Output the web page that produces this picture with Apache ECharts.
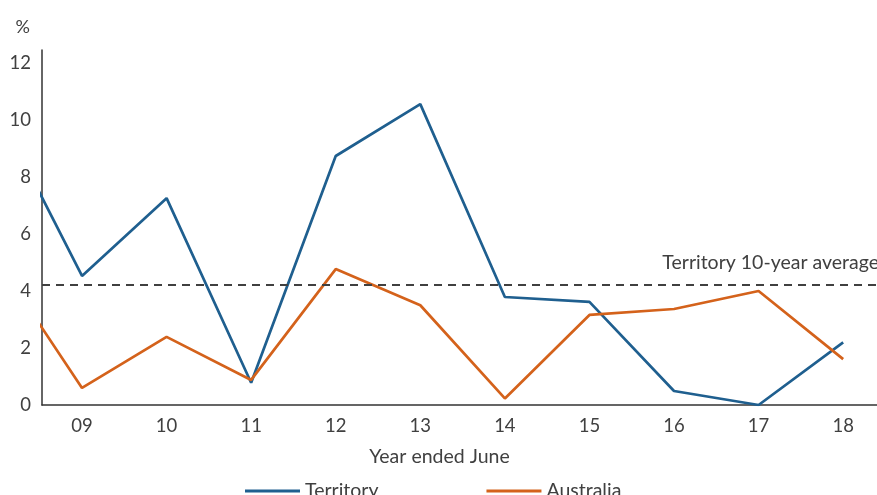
<!DOCTYPE html>
<html>
<head>
<meta charset="utf-8">
<script src="https://cdn.jsdelivr.net/npm/echarts@6/dist/echarts.min.js"></script>
<style>html,body{margin:0;padding:0;background:#fff;}#c{width:877px;height:495px;}</style>
</head>
<body>
<div id="c"></div>
<script>
var years = [8, 9, 10, 11, 12, 13, 14, 15, 16, 17, 18];
var tickYears = [9, 10, 11, 12, 13, 14, 15, 16, 17, 18];
var territory = [10.35, 4.53, 7.26, 0.78, 8.74, 10.56, 3.79, 3.62, 0.49, 0.0, 2.2];
var australia = [5.05, 0.6, 2.39, 0.88, 4.77, 3.5, 0.23, 3.16, 3.37, 4.0, 1.61];
var territoryAverage = 4.21;
var yTicks = [0, 2, 4, 6, 8, 10, 12];

var txt = '#404040';
var font = 'Lato';
function pairs(v) { return years.map(function (y, i) { return [y, v[i]]; }); }

var chart = echarts.init(document.getElementById('c'));
chart.setOption({
  animation: false,
  textStyle: { fontFamily: font },
  grid: { left: 42, right: 0, top: 50, bottom: 90 },
  xAxis: {
    type: 'value', min: 8.527, max: 18.4,
    name: 'Year ended June', nameLocation: 'middle', nameGap: 42,
    nameTextStyle: { fontFamily: font, fontSize: 19.5, color: txt, padding: [0, 40, 0, 0] },
    axisLine: { show: true, lineStyle: { color: '#333', width: 1.5 } },
    axisTick: { show: false },
    splitLine: { show: false },
    axisLabel: {
      customValues: tickYears, fontFamily: font, fontSize: 18.5, color: txt, margin: 12,
      formatter: function (v) { return (v < 10 ? '0' : '') + v; }
    }
  },
  yAxis: {
    type: 'value', min: 0, max: 12.46,
    name: '%', nameLocation: 'end', nameGap: 14,
    nameTextStyle: { fontFamily: font, fontSize: 18, color: txt, align: 'right', padding: [0, 12, 0, 0] },
    axisLine: { show: true, lineStyle: { color: '#333', width: 1.5 } },
    axisTick: { show: false },
    splitLine: { show: false },
    axisLabel: { customValues: yTicks, fontFamily: font, fontSize: 18.5, color: txt, margin: 11 }
  },
  legend: {
    left: 240, top: 476, itemGap: 108, itemWidth: 55, itemHeight: 3, icon: 'rect',
    textStyle: { fontFamily: font, fontSize: 19.5, color: txt },
    data: ['Territory', 'Australia']
  },
  series: [
    {
      name: 'Territory', type: 'line', data: pairs(territory), symbol: 'none', clip: true,
      lineStyle: { color: '#1f5f8f', width: 2.7 }, itemStyle: { color: '#1f5f8f' },
      markLine: {
        silent: true, symbol: 'none',
        lineStyle: { color: '#404040', type: [8, 6], width: 1.8 },
        label: { show: true, position: 'insideEndTop', formatter: 'Territory 10-year average',
          fontFamily: font, fontSize: 19.5, color: txt, distance: [-2, 12] },
        data: [{ yAxis: territoryAverage }]
      }
    },
    {
      name: 'Australia', type: 'line', data: pairs(australia), symbol: 'none', clip: true,
      lineStyle: { color: '#d4621b', width: 2.7 }, itemStyle: { color: '#d4621b' }
    }
  ]
});
</script>
</body>
</html>
